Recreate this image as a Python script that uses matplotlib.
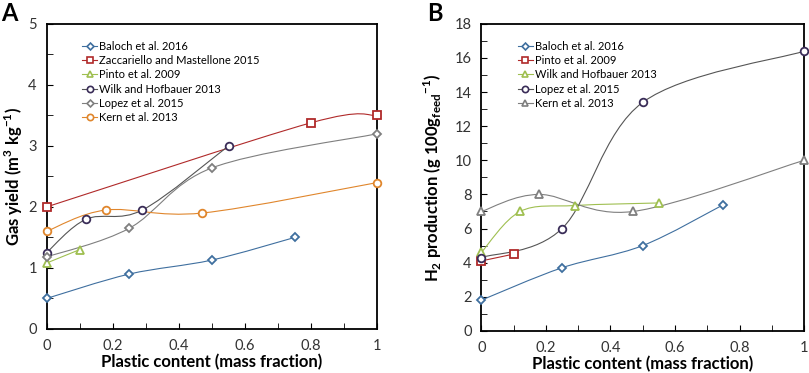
import numpy as np
import matplotlib
matplotlib.use("Agg")
import matplotlib.pyplot as plt
from matplotlib.path import Path
from matplotlib.patches import PathPatch
from matplotlib.lines import Line2D
from matplotlib.ticker import MultipleLocator

plt.rcParams['font.family'] = ['Lato', 'DejaVu Sans']
plt.rcParams['mathtext.fontset'] = 'custom'
plt.rcParams['mathtext.rm'] = 'Lato'
plt.rcParams['mathtext.bf'] = 'Lato:bold'

# Panel A: gas yield (m3/kg)
a_baloch_x = [0, 0.25, 0.5, 0.75]
a_baloch_y = [0.5, 0.9, 1.13, 1.5]
a_zacc_x = [0, 0.8, 1.0]
a_zacc_y = [2.0, 3.38, 3.5]
a_pinto_x = [0, 0.1]
a_pinto_y = [1.08, 1.3]
a_wilk_x = [0, 0.12, 0.29, 0.55]
a_wilk_y = [1.25, 1.8, 1.95, 3.0]
a_lopez_x = [0, 0.25, 0.5, 1.0]
a_lopez_y = [1.18, 1.65, 2.64, 3.2]
a_kern_x = [0, 0.18, 0.47, 1.0]
a_kern_y = [1.6, 1.95, 1.9, 2.4]

# Panel B: H2 production (g / 100 g feed)
b_baloch_x = [0, 0.25, 0.5, 0.75]
b_baloch_y = [1.8, 3.7, 5.0, 7.4]
b_pinto_x = [0, 0.1]
b_pinto_y = [4.1, 4.5]
b_wilk_x = [0, 0.12, 0.29, 0.55]
b_wilk_y = [4.6, 7.0, 7.35, 7.5]
b_lopez_x = [0, 0.25, 0.5, 1.0]
b_lopez_y = [4.3, 6.0, 13.4, 16.4]
b_kern_x = [0, 0.18, 0.47, 1.0]
b_kern_y = [7.0, 8.0, 7.0, 10.0]

BLUE = '#3f6f9f'
RED = '#b02a2a'
GREEN = '#9fbf50'
PURPLE = '#3a2d58'
GRAY = '#7f7f7f'
ORANGE = '#e0862c'


def smooth_path(x, y):
    # excel-like smoothed line as cubic bezier segments through the data
    p = np.column_stack([x, y]).astype(float)
    n = len(p)
    verts = [p[0]]
    codes = [Path.MOVETO]
    for i in range(n - 1):
        p0 = p[i - 1] if i > 0 else p[i]
        p1 = p[i]
        p2 = p[i + 1]
        p3 = p[i + 2] if i + 2 < n else p[i + 1]
        c1 = p1 + (p2 - p0) / 6.0
        c2 = p2 - (p3 - p1) / 6.0
        verts += [c1, c2, p2]
        codes += [Path.CURVE4] * 3
    return Path(verts, codes)


def series(ax, x, y, color, marker, label, lc=None):
    ms = 4.5 if marker == 'D' else 5.5
    ax.add_patch(PathPatch(smooth_path(x, y), facecolor='none',
                           edgecolor=lc or color, lw=0.8, zorder=2))
    ax.plot(x, y, ls='none', marker=marker, ms=ms, mfc='white', mec=color,
            mew=1.3, zorder=3, clip_on=False)
    return Line2D([], [], color=lc or color, lw=0.8, marker=marker, ms=ms - 1,
                  mfc='white', mec=color, mew=1.2, label=label)


def style(ax, ymax, ymajor, yminor):
    ax.set_xlim(0, 1)
    ax.set_ylim(0, ymax)
    ax.xaxis.set_major_locator(MultipleLocator(0.2))
    ax.xaxis.set_minor_locator(MultipleLocator(0.1))
    ax.yaxis.set_major_locator(MultipleLocator(ymajor))
    ax.yaxis.set_minor_locator(MultipleLocator(yminor))
    ax.tick_params(which='both', direction='in', labelsize=10.5,
                   color='black', labelcolor='#333333')
    ax.tick_params(which='major', length=4, pad=7)
    ax.tick_params(which='minor', length=4)
    ax.xaxis.set_major_formatter(plt.FuncFormatter(lambda v, p: '%g' % v))
    for s in ax.spines.values():
        s.set_linewidth(1.3)
    ax.set_xlabel('Plastic content (mass fraction)', fontsize=12,
                  fontweight='bold', labelpad=1)


fig = plt.figure(figsize=(8.09, 3.73), dpi=100)
axA = fig.add_axes([0.0575, 0.118, 0.409, 0.818])
axB = fig.add_axes([0.595, 0.113, 0.399, 0.823])

h = []
h.append(series(axA, a_baloch_x, a_baloch_y, BLUE, 'D', 'Baloch et al. 2016'))
h.append(series(axA, a_zacc_x, a_zacc_y, RED, 's', 'Zaccariello and Mastellone 2015'))
h.append(series(axA, a_pinto_x, a_pinto_y, GREEN, '^', 'Pinto et al. 2009'))
h.append(series(axA, a_wilk_x, a_wilk_y, PURPLE, 'o', 'Wilk and Hofbauer 2013', lc='#555555'))
h.append(series(axA, a_lopez_x, a_lopez_y, GRAY, 'D', 'Lopez et al. 2015'))
h.append(series(axA, a_kern_x, a_kern_y, ORANGE, 'o', 'Kern et al. 2013'))
axA.legend(handles=h, loc='upper left', bbox_to_anchor=(0.095, 0.96),
           frameon=False, fontsize=8, handlelength=1.3, handletextpad=0.2,
           labelspacing=0.3, borderaxespad=0)
style(axA, 5, 1, 0.5)
axA.set_ylabel(r'Gas yield (m$^\mathbf{3}$ kg$^\mathbf{-1}$)', fontsize=12,
               fontweight='bold')
axA.yaxis.set_label_coords(-0.066, 0.5)

h = []
h.append(series(axB, b_baloch_x, b_baloch_y, BLUE, 'D', 'Baloch et al. 2016'))
h.append(series(axB, b_pinto_x, b_pinto_y, RED, 's', 'Pinto et al. 2009'))
h.append(series(axB, b_wilk_x, b_wilk_y, GREEN, '^', 'Wilk and Hofbauer 2013'))
h.append(series(axB, b_lopez_x, b_lopez_y, PURPLE, 'o', 'Lopez et al. 2015', lc='#555555'))
h.append(series(axB, b_kern_x, b_kern_y, GRAY, '^', 'Kern et al. 2013'))
axB.legend(handles=h, loc='upper left', bbox_to_anchor=(0.1, 0.96),
           frameon=False, fontsize=8, handlelength=1.3, handletextpad=0.2,
           labelspacing=0.3, borderaxespad=0)
style(axB, 18, 2, 1)
axB.set_ylabel(r'H$_\mathbf{2}$ production (g 100g$_\mathbf{feed}$$^{\mathbf{-1}}$)',
               fontsize=12, fontweight='bold', labelpad=8)

fig.text(0.002, 0.995, 'A', fontsize=17, fontweight='bold', va='top')
fig.text(0.528, 0.995, 'B', fontsize=17, fontweight='bold', va='top')

fig.savefig('out.png', dpi=100)
